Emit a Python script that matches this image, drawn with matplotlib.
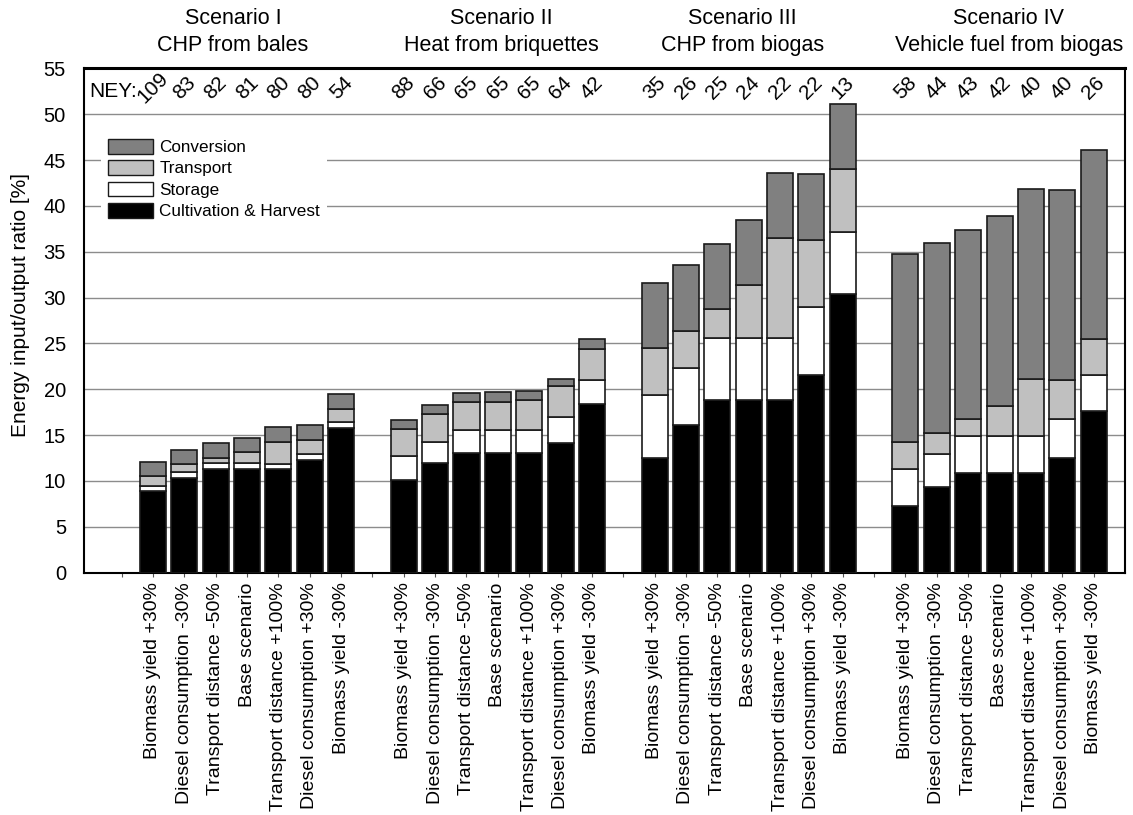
import matplotlib
matplotlib.use("Agg")
import matplotlib.pyplot as plt
from matplotlib.patches import Patch
import numpy as np

plt.rcParams['font.family'] = ['Liberation Sans', 'DejaVu Sans']

scenarios = ["Scenario I\nCHP from bales", "Scenario II\nHeat from briquettes",
             "Scenario III\nCHP from biogas", "Scenario IV\nVehicle fuel from biogas"]
variants = ["Biomass yield +30%", "Diesel consumption -30%", "Transport distance -50%",
            "Base scenario", "Transport distance +100%", "Diesel consumption +30%",
            "Biomass yield -30%"]

cultivation = [8.9, 10.35, 11.3, 11.3, 11.3, 12.3, 15.8,
               10.1, 11.9, 13.0, 13.0, 13.0, 14.1, 18.4,
               12.5, 16.05, 18.8, 18.8, 18.8, 21.55, 30.4,
               7.3, 9.3, 10.9, 10.9, 10.9, 12.45, 17.6]
storage = [0.5, 0.6, 0.6, 0.6, 0.55, 0.6, 0.65,
           2.6, 2.3, 2.5, 2.5, 2.5, 2.85, 2.6,
           6.85, 6.3, 6.8, 6.8, 6.8, 7.4, 6.8,
           3.95, 3.6, 3.95, 3.95, 3.95, 4.3, 3.95]
transport = [1.15, 0.9, 0.65, 1.25, 2.4, 1.6, 1.4,
             3.0, 3.05, 3.1, 3.15, 3.3, 3.35, 3.35,
             5.1, 4.05, 3.15, 5.75, 10.85, 7.35, 6.8,
             2.95, 2.35, 1.85, 3.35, 6.3, 4.25, 3.9]
conversion = [1.55, 1.5, 1.6, 1.55, 1.6, 1.55, 1.6,
              0.9, 1.0, 0.95, 1.0, 1.0, 0.8, 1.1,
              7.15, 7.15, 7.15, 7.15, 7.15, 7.15, 7.15,
              20.6, 20.7, 20.7, 20.7, 20.7, 20.75, 20.7]
ney = [109, 83, 82, 81, 80, 80, 54,
       88, 66, 65, 65, 65, 64, 42,
       35, 26, 25, 24, 22, 22, 13,
       58, 44, 43, 42, 40, 40, 26]

fig = plt.figure(figsize=(11.33, 8.15), dpi=100)
ax = fig.add_axes([0.0741, 0.2975, 0.9188, 0.6185])

n_groups = len(scenarios)
n_var = len(variants)
x = np.array([g * (n_var + 1) + i for g in range(n_groups) for i in range(n_var)], dtype=float)

cult = np.array(cultivation)
stor = np.array(storage)
trans = np.array(transport)
conv = np.array(conversion)

w = 0.83
ec = '#1a1a1a'
ax.bar(x, cult, w, color='black', edgecolor=ec, linewidth=1.2, zorder=3)
ax.bar(x, stor, w, bottom=cult, color='white', edgecolor=ec, linewidth=1.2, zorder=3)
ax.bar(x, trans, w, bottom=cult + stor, color='#c0c0c0', edgecolor=ec, linewidth=1.2, zorder=3)
ax.bar(x, conv, w, bottom=cult + stor + trans, color='#808080', edgecolor=ec, linewidth=1.2, zorder=3)

ax.set_ylim(0, 55)
ax.set_xlim(-2.2, 31.0)
ax.set_yticks(np.arange(0, 56, 5))
ax.yaxis.grid(True, color='#8c8c8c', linewidth=1.0, zorder=0)
ax.set_axisbelow(True)
ax.tick_params(axis='y', length=0, pad=13, labelsize=14.5)

all_ticks = np.arange(-1, 31)
labels = []
for t in all_ticks:
    if t >= 0 and (t % (n_var + 1)) < n_var:
        labels.append(variants[int(t % (n_var + 1))])
    else:
        labels.append("")
ax.set_xticks(all_ticks)
ax.set_xticklabels(labels, rotation=90, fontsize=14)
ax.tick_params(axis='x', length=3, width=0.8, color='#555555', pad=4)

for s in ax.spines.values():
    s.set_linewidth(1.5)
    s.set_color('black')
ax.spines['top'].set_linewidth(2.2)

ax.set_ylabel("Energy input/output ratio [%]", fontsize=15)
ax.yaxis.set_label_coords(-0.052, 0.53)

# NEY labels
for xi, v in zip(x, ney):
    ax.text(xi, 52.9, str(v), rotation=45, ha='center', va='center', fontsize=15, zorder=5)
ax.text(-0.5, 52.5, "NEY:", ha='right', va='center', fontsize=15, zorder=5)

# scenario titles
title_pos = [2.55, 11.1, 18.8, 27.3]
for tp, st in zip(title_pos, scenarios):
    ax.text(tp, 1.025, st, transform=ax.get_xaxis_transform(), ha='center', va='bottom',
            fontsize=15.5, linespacing=1.35)

handles = [Patch(facecolor='#808080', edgecolor=ec, label='Conversion'),
           Patch(facecolor='#c0c0c0', edgecolor=ec, label='Transport'),
           Patch(facecolor='white', edgecolor=ec, label='Storage'),
           Patch(facecolor='black', edgecolor=ec, label='Cultivation & Harvest')]
leg = ax.legend(handles=handles, loc='upper left', bbox_to_anchor=(0.0165, 0.874),
                frameon=True, fancybox=False, framealpha=1, edgecolor='white',
                fontsize=12.3, handlelength=2.65, handleheight=0.95, handletextpad=0.35,
                labelspacing=0.3, borderpad=0.4, borderaxespad=0)
leg.get_frame().set_linewidth(0)
leg.set_zorder(4)

fig.savefig("out.png", dpi=100)
